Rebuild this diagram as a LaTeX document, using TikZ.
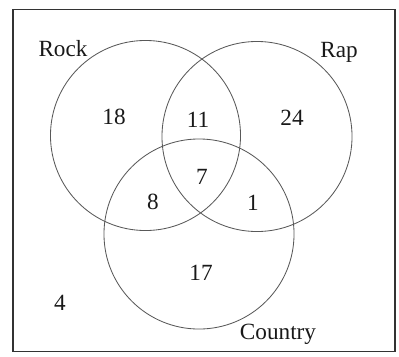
\documentclass[tikz,border=0pt]{standalone}
\usepackage{fontspec}
\setmainfont{Liberation Serif}
\usetikzlibrary{positioning}

\begin{document}
\begin{tikzpicture}[x=0.025cm, y=-0.025cm,
  set/.style={draw=black!65, line width=0.6pt, circle, minimum size=4.75cm, inner sep=0pt},
  num/.style={font=\fontsize{16.5}{19}\selectfont, text=black!90, inner sep=0pt}]
\useasboundingbox (0,0) rectangle (399,356);
% Universe
\node[draw=black!80, line width=0.8pt, minimum width=9.55cm, minimum height=8.55cm, inner sep=0pt] (univ) at (204,180.5) {};

% Sets
\node[set] (rock) at (145.5,135.5) {};
\node[set] (rap) at (257,136.5) {};
\node[set] (country) at (199,234) {};

% Set labels
\node[num] (rocklbl) at (63,49) {Rock};
\node[num] (raplbl) at (339,52) {Rap};
\node[num] (countrylbl) at (278,334) {Country};

% Counts
\node[num] (n18) at (114,117) {18};
\node[num] (n11) at (198,120) {11};
\node[num] (n24) at (292,118) {24};
\node[num] (n7) at (202,177) {7};
\node[num] (n8) at (153,202) {8};
\node[num] (n1) at (253,203) {1};
\node[num] (n17) at (201,273) {17};
\node[num] (n4) at (60,303) {4};

\end{tikzpicture}
\end{document}
